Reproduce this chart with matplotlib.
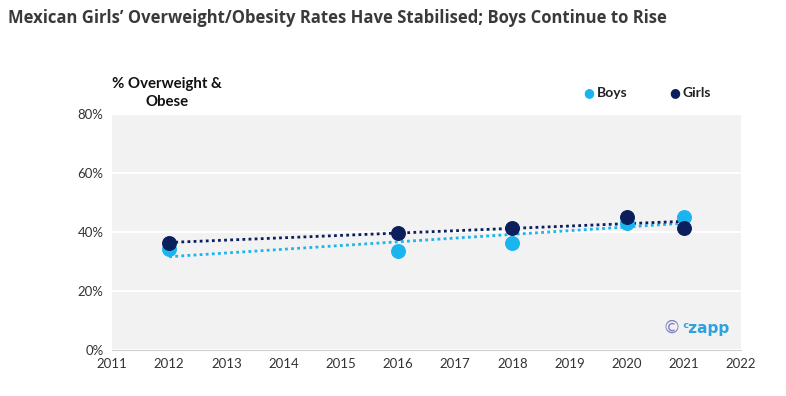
import numpy as np
import matplotlib.pyplot as plt

years = [2012, 2016, 2018, 2020, 2021]
boys = [34.2, 33.6, 36.2, 43.0, 45.2]
girls = [36.2, 39.6, 41.3, 45.2, 41.5]

boys_color = '#1ab4ef'
girls_color = '#0a1f5c'

fig = plt.figure(figsize=(7.86, 3.96), dpi=100)
ax = fig.add_axes([0.1425, 0.1162, 0.8002, 0.5958])
ax.set_facecolor('#f2f2f2')

# trend lines first, points on top
for vals, col in [(boys, boys_color), (girls, girls_color)]:
    k, b = np.polyfit(years, vals, 1)
    xs = np.array([years[0], years[-1]])
    ax.plot(xs, k * xs + b, linestyle=(0, (1, 1.2)), color=col, linewidth=2, zorder=2)

ax.scatter(years, boys, s=95, color=boys_color, zorder=3)
ax.scatter(years, girls, s=95, color=girls_color, zorder=4)

ax.set_xlim(2011, 2022)
ax.set_ylim(0, 80)
ax.set_xticks(range(2011, 2023))
ax.set_yticks(range(0, 81, 20))
ax.set_yticklabels([f'{v}%' for v in range(0, 81, 20)])
ax.yaxis.grid(True, color='white', linewidth=1.5)
ax.set_axisbelow(True)
for s in ['top', 'right', 'left']:
    ax.spines[s].set_visible(False)
ax.spines['bottom'].set_color('#d0d0d0')
ax.tick_params(length=0, labelsize=9.5, colors='#333333', pad=6)
for lbl in ax.get_xticklabels() + ax.get_yticklabels():
    lbl.set_family('Lato')

fig.text(0.01, 0.955, 'Mexican Girls\u2019 Overweight/Obesity Rates Have Stabilised; Boys Continue to Rise',
         fontsize=12, fontweight='bold', color='#3a3a3a', family='Open Sans', va='center')
fig.text(0.212, 0.765, '% Overweight &\nObese', fontsize=10.8, fontweight='bold', color='#111111',
         family='Lato', ha='center', va='center', linespacing=1.3)

# legend
fig.text(0.742, 0.765, '\u25cf', fontsize=9, color=boys_color, va='center', family='DejaVu Sans')
fig.text(0.759, 0.765, 'Boys', fontsize=10, color='#222222', va='center', family='Lato', fontweight='bold')
fig.text(0.851, 0.765, '\u25cf', fontsize=9, color=girls_color, va='center', family='DejaVu Sans')
fig.text(0.868, 0.765, 'Girls', fontsize=10, color='#222222', va='center', family='Lato', fontweight='bold')

# watermark
ax.text(0.889, 0.093, '\u00a9', transform=ax.transAxes, fontsize=13, color='#7b7fc4', va='center', ha='center')
ax.text(0.945, 0.093, '\u1d9czapp', transform=ax.transAxes, fontsize=11, color='#2aa3e0', va='center',
        ha='center', fontweight='bold', family='DejaVu Sans')

fig.savefig('out.png', dpi=100)
